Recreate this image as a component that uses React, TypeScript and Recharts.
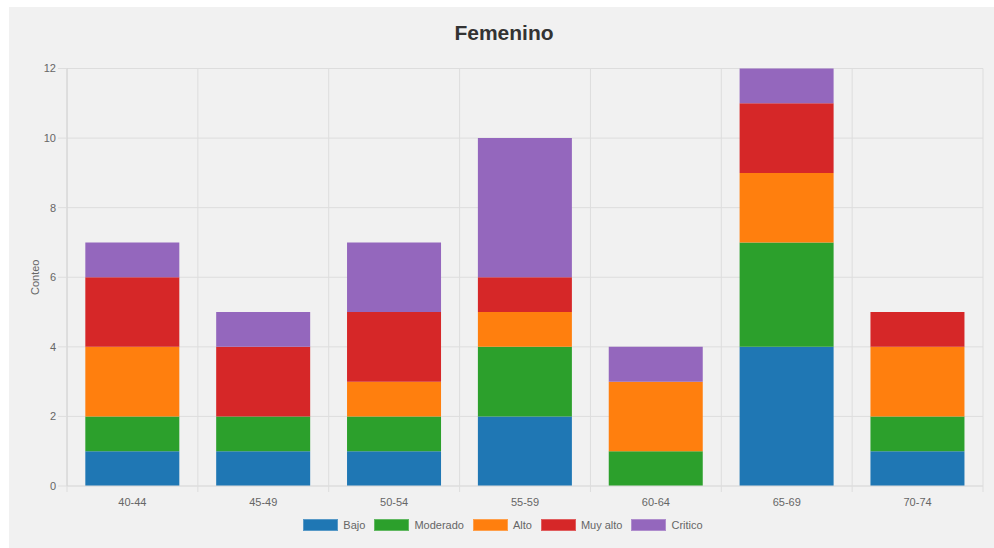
import React from 'react';
import { BarChart, Bar, XAxis, YAxis, CartesianGrid, Legend } from 'recharts';

const categories = ['40-44', '45-49', '50-54', '55-59', '60-64', '65-69', '70-74'];
const bajo = [1, 1, 1, 2, 0, 4, 1];
const moderado = [1, 1, 1, 2, 1, 3, 1];
const alto = [2, 0, 1, 1, 2, 2, 2];
const muyAlto = [2, 2, 2, 1, 0, 2, 1];
const critico = [1, 1, 2, 4, 1, 1, 0];
const yTicks = [0, 2, 4, 6, 8, 10, 12];

const series = [
  { key: 'Bajo', values: bajo, color: '#1f77b4' },
  { key: 'Moderado', values: moderado, color: '#2ca02c' },
  { key: 'Alto', values: alto, color: '#ff7f0e' },
  { key: 'Muy alto', values: muyAlto, color: '#d62728' },
  { key: 'Critico', values: critico, color: '#9467bd' },
];

const data = categories.map((c, i) => {
  const row: any = { name: c };
  series.forEach((s) => (row[s.key] = s.values[i]));
  return row;
});

const FONT = '"Liberation Sans", Arial, Helvetica, sans-serif';
const GRID = '#dddddd';

const XTick = (props: any) => {
  const { x, y, payload, index, width } = props;
  const bw = width / categories.length;
  const axisY = y - 12;
  return (
    <g>
      <line x1={x - bw / 2} x2={x - bw / 2} y1={axisY} y2={axisY + 6} stroke={GRID} />
      {index === categories.length - 1 && (
        <line x1={x + bw / 2} x2={x + bw / 2} y1={axisY} y2={axisY + 6} stroke={GRID} />
      )}
      <text x={x} y={y} dy="0.71em" textAnchor="middle" fill="#666" fontSize={11} fontFamily={FONT}>
        {payload.value}
      </text>
    </g>
  );
};

const LegendContent = () => (
  <div style={{ display: 'flex', justifyContent: 'center', paddingTop: 3, paddingLeft: 14, height: 29, fontFamily: FONT, fontSize: 11, color: '#666' }}>
    {series.map((s, i) => (
      <div key={s.key} style={{ display: 'flex', alignItems: 'center', marginRight: i === series.length - 1 ? 0 : 9, height: 12 }}>
        <div style={{ width: 33, height: 10, background: s.color, border: '1px solid rgba(255,255,255,0.25)', marginRight: 5 }} />
        <span>{s.key}</span>
      </div>
    ))}
  </div>
);

export default function App() {
  return (
    <div style={{ position: 'fixed', left: 9, top: 7, width: 985, height: 541, background: '#f1f1f1' }}>
      <div style={{ position: 'absolute', top: 14, left: 0, width: 990, textAlign: 'center', fontFamily: FONT, fontWeight: 'bold', fontSize: 21, color: '#333' }}>
        Femenino
      </div>
      <BarChart
        width={985}
        height={541}
        data={data}
        margin={{ top: 61.5, right: 11, left: 0, bottom: 0 }}
        barCategoryGap="14%"
      >
        <CartesianGrid
          stroke={GRID}
          verticalCoordinatesGenerator={({ offset }: any) =>
            Array.from({ length: categories.length + 1 }, (_, i) => offset.left + (i * offset.width) / categories.length)
          }
        />
        <XAxis
          dataKey="name"
          height={30}
          tickSize={6}
          tickMargin={6}
          tickLine={false}
          axisLine={{ stroke: GRID }}
          tick={<XTick />}
          interval={0}
        />
        <YAxis
          width={58}
          domain={[0, 12]}
          ticks={yTicks}
          interval={0}
          tickSize={9}
          tickMargin={2}
          tickLine={{ stroke: GRID }}
          axisLine={{ stroke: '#d4d4d4' }}
          tick={{ fill: '#666', fontSize: 11, fontFamily: FONT }}
          label={(p: any) => {
            const vb = p.viewBox;
            const cy = vb.y + vb.height / 2;
            return (
              <text x={26} y={cy} textAnchor="middle" dominantBaseline="central" transform={`rotate(-90, 26, ${cy})`} fill="#666" fontSize={11} fontFamily={FONT}>
                Conteo
              </text>
            );
          }}
        />
        <Legend verticalAlign="bottom" content={<LegendContent />} />
        {series.map((s) => (
          <Bar key={s.key} dataKey={s.key} stackId="a" fill={s.color} isAnimationActive={false} />
        ))}
      </BarChart>
    </div>
  );
}
